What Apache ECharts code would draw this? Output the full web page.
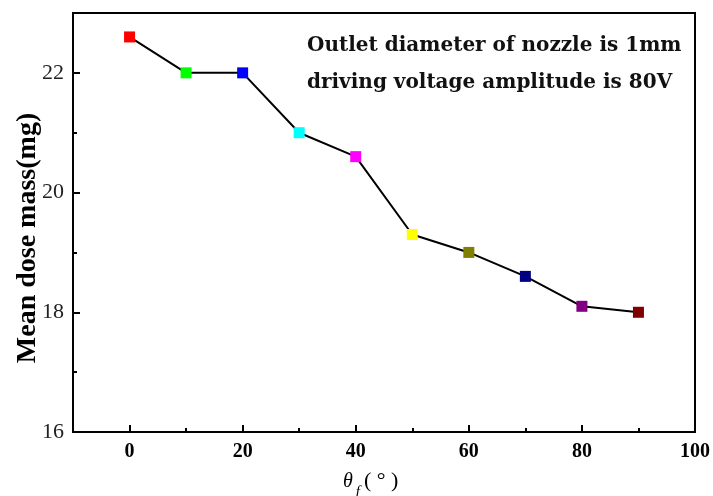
<!DOCTYPE html>
<html><head><meta charset="utf-8">
<script src="https://cdn.jsdelivr.net/npm/echarts@6/dist/echarts.min.js"></script>
<style>html,body{margin:0;padding:0;background:#fff}#c{width:713px;height:496px}</style>
</head><body><div id="c"></div>
<script>
const angles = [0, 10, 20, 30, 40, 50, 60, 70, 80, 90];
const massValues = [22.6, 22.0, 22.0, 21.0, 20.6, 19.3, 19.0, 18.6, 18.1, 18.0];
const pointColors = ['#ff0000','#00ff00','#0000ff','#00ffff','#ff00ff','#ffff00','#808000','#000080','#800080','#800000'];
const xMajorTicks = [0, 20, 40, 60, 80, 100];
const xMinorTicks = [10, 30, 50, 70, 90];
const yMajorTicks = [16, 18, 20, 22];
const yMinorTicks = [17, 19, 21];
const noteLines = ['Outlet diameter of nozzle is 1mm', 'driving voltage amplitude is 80V'];

const chart = echarts.init(document.getElementById('c'));
const serif = 'Liberation Serif';
const grid = {left: 73, right: 17, top: 13, bottom: 64, show: true, borderColor: '#000', borderWidth: 2, backgroundColor: 'transparent'};
function xAx(ticks, len, labels) {
  return {type: 'value', position: 'bottom', min: -10, max: 100, gridIndex: 0,
    axisLine: {show: true, onZero: false, lineStyle: {color: '#000', width: 2}},
    splitLine: {show: false},
    axisTick: {show: true, inside: true, length: len, customValues: ticks, lineStyle: {color: '#000', width: 2}},
    axisLabel: labels ? {show: true, customValues: ticks, color: '#000', fontFamily: serif, fontWeight: 'bold', fontSize: 20, margin: 10} : {show: false}};
}
function yAx(ticks, len, labels) {
  return {type: 'value', position: 'left', min: 16, max: 23, gridIndex: 0,
    axisLine: {show: true, onZero: false, lineStyle: {color: '#000', width: 2}},
    splitLine: {show: false},
    axisTick: {show: true, inside: true, length: len, customValues: ticks, lineStyle: {color: '#000', width: 2}},
    axisLabel: labels ? {show: true, customValues: ticks, color: '#222', fontFamily: serif, fontSize: 22, margin: 9} : {show: false}};
}
chart.setOption({
  animation: false,
  backgroundColor: '#fff',
  grid: grid,
  xAxis: [xAx(xMajorTicks, 7, true), xAx(xMinorTicks, 4, false)],
  yAxis: [yAx(yMajorTicks, 7, true), yAx(yMinorTicks, 4, false)],
  series: [{
    type: 'line', xAxisIndex: 0, yAxisIndex: 0,
    data: angles.map((a, i) => ({value: [a, massValues[i]], itemStyle: {color: pointColors[i], borderWidth: 0}})),
    symbol: 'rect', symbolSize: 11,
    lineStyle: {color: '#000', width: 2},
    z: 3
  }],
  graphic: [
    {type: 'text', left: 307, top: 36, style: {text: noteLines[0], font: 'bold 20px "DejaVu Serif"', fill: '#111'}},
    {type: 'text', left: 307, top: 73, style: {text: noteLines[1], font: 'bold 20px "DejaVu Serif"', fill: '#111'}},
    {type: 'text', x: 28, y: 238, rotation: Math.PI / 2,
      style: {text: 'Mean dose mass(mg)', font: 'bold 28px "Liberation Serif"', fill: '#000', align: 'center', verticalAlign: 'middle'}},
    {type: 'text', x: 343, y: 463,
      style: {text: '{t|θ}{s|f}{p|( ° )}', fill: '#000',
        rich: {t: {font: 'italic 20px "Liberation Serif"'},
               s: {font: 'italic 15px "Liberation Serif"', padding: [22, 4, 0, 3]},
               p: {font: '22px "Liberation Serif"'}}}}
  ]
});
</script></body></html>
